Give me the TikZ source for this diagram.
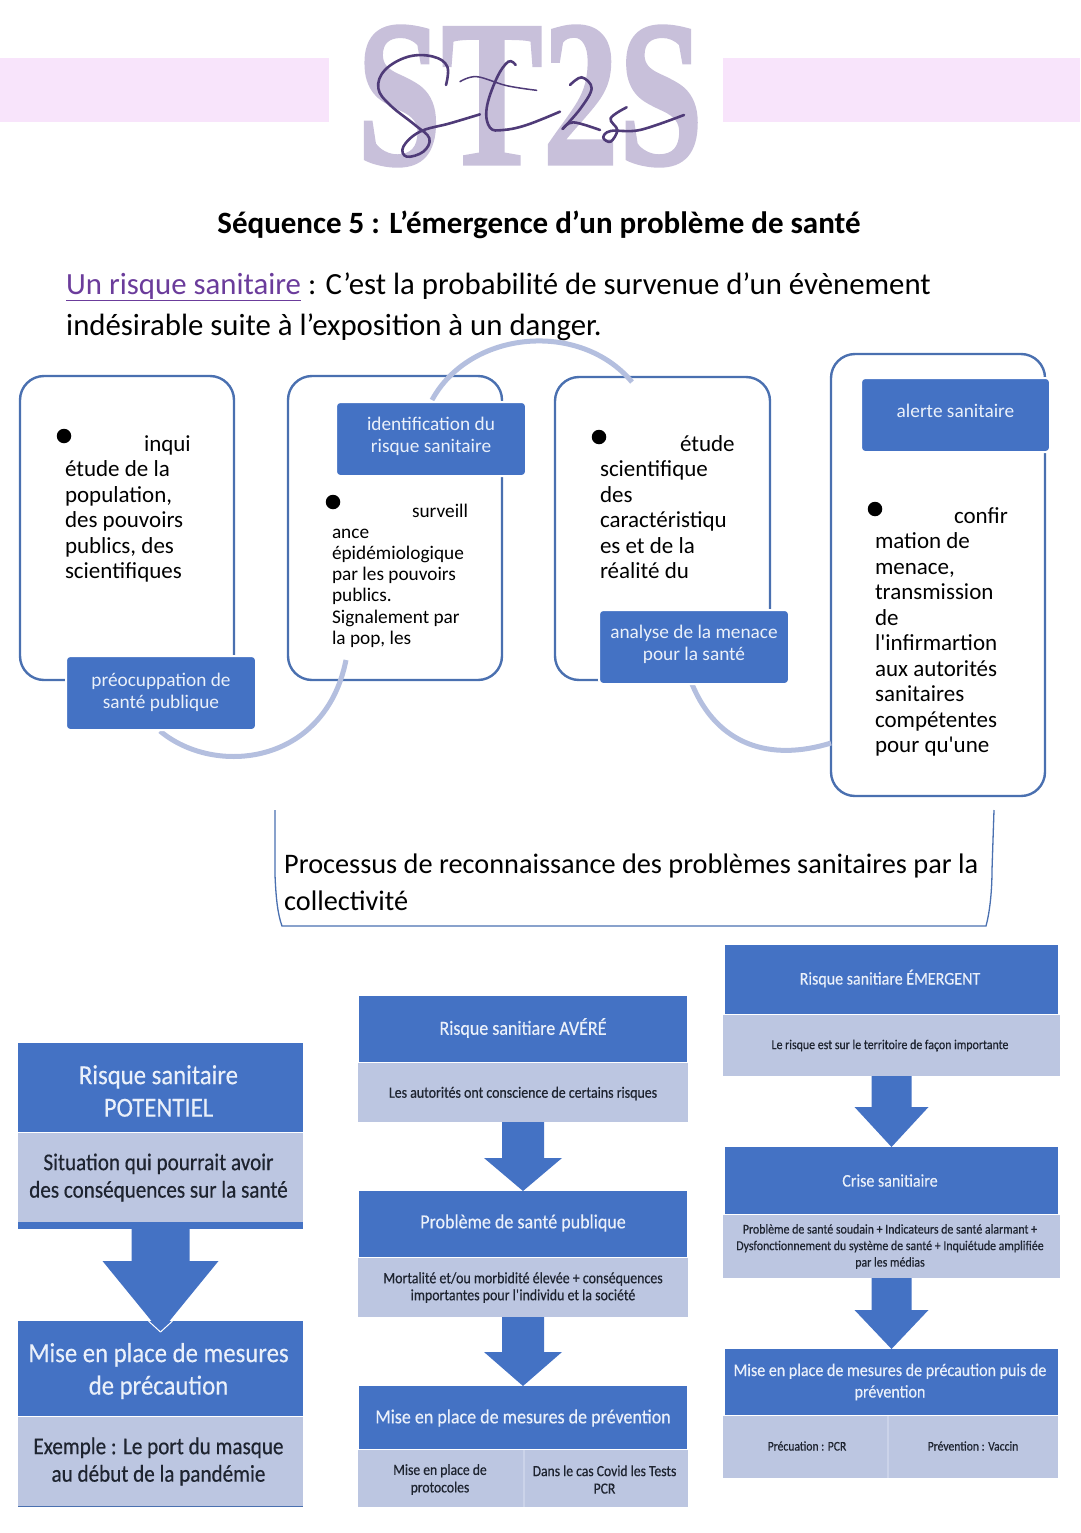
\documentclass[tikz,border=0pt]{standalone}
\usepackage{fontspec}
\setmainfont{Carlito}
\newfontfamily\logofont[FakeBold=1.5]{Liberation Serif}
\newfontfamily\straight[Ligatures=TeXOff]{Carlito}
\newfontfamily\condfont[FakeStretch=0.9,FakeBold=0.25]{Carlito}
\newfontfamily\darkfont[FakeStretch=0.88,FakeBold=0.45]{Carlito}
\usetikzlibrary{calc}
\definecolor{bluefill}{HTML}{4472C4}
\definecolor{lightfill}{HTML}{BCC6E1}
\definecolor{sepline}{HTML}{CBD3E9}
\definecolor{arcblue}{HTML}{B4BFDF}
\definecolor{edgeblue}{HTML}{4A70B0}
\definecolor{pinkband}{HTML}{F8E4FB}
\definecolor{logolight}{HTML}{C8C0DA}
\definecolor{logodark}{HTML}{4F3B78}
\definecolor{linkpurple}{HTML}{6B3C9B}
\definecolor{softwhite}{HTML}{EAF0FA}
\definecolor{darktext}{HTML}{1E2430}
\newcommand{\fs}[2]{\fontsize{#1}{#2}\selectfont}
\newcommand{\apos}{{\straight '}}
% \bx{name}{x1}{y1}{x2}{y2}{box style}{text style}{text}
\newcommand{\bx}[8]{%
  \pgfmathsetmacro{\bxw}{#4-#2}\pgfmathsetmacro{\bxh}{#5-#3}%
  \node[#6,minimum width=\bxw pt,minimum height=\bxh pt] (#1) at ({(#2+#4)/2},{(#3+#5)/2}) {};
  \node[inner sep=0pt,outer sep=0pt,align=center,#7] (#1-t) at (#1.center) {#8};}
% \flowarrow{from}{to}{half stem}{half head}{neck}{tip overlap}
\newcommand{\flowarrow}[6]{%
  \fill[bluefill] ($(#1.south)+(-#3,0)$) -- ++(0,#5) -- ++(#3-#4,0) -- ($(#2.north)+(0,#6)$)
    -- ($(#1.south)+(#4,#5)$) -- ++(#3-#4,0) -- ++(0,-#5) -- cycle;}
\tikzset{
  frame/.style={draw=edgeblue,line width=2.4pt,rounded corners=24pt,fill=white,inner sep=0pt,outer sep=0pt},
  tag/.style={fill=bluefill,draw=white,line width=2pt,rounded corners=4pt,inner sep=0pt,outer sep=0pt},
  tagt/.style={text=softwhite,font=\fs{19.3}{22}},
  hd/.style={fill=bluefill,inner sep=0pt,outer sep=0pt},
  hdt/.style={text=softwhite},
  sub/.style={fill=lightfill,inner sep=0pt,outer sep=0pt},
  subt/.style={text=darktext},
  body/.style={anchor=north west,align=left,inner sep=0pt,outer sep=0pt,text=black},
  bullet/.style={circle,fill=black,minimum size=14.5pt,inner sep=0pt},
  arcline/.style={draw=arcblue,line width=5pt},
  band/.style={fill=pinkband,inner sep=0pt,outer sep=0pt},
}
\begin{document}
\begin{tikzpicture}[x=1pt,y=-1pt]
\useasboundingbox (0,0) rectangle (1080,1533);
% header
\bx{bandL}{0}{58}{329}{122}{band}{}{}
\bx{bandR}{723}{58}{1080}{122}{band}{}{}
\node[text=logolight,inner sep=0pt] (logo) at (530,96) {\resizebox{346pt}{138pt}{\logofont\bfseries ST2S}};
\begin{scope}[shift={(340,15)},x=0.3333pt,y=-0.3333pt,logodark,line width=2.6pt,line cap=round]
\draw plot[smooth,tension=.65] coordinates {(318,210) (322,155) (280,125) (205,125) (135,165) (115,220) (150,270) (225,330) (268,370) (250,410) (200,425) (190,395) (240,350) (330,325) (420,298)};
\draw[line width=1.5pt] plot[smooth,tension=.6] coordinates {(360,200) (410,185) (500,212) (590,226)};
\draw plot[smooth,tension=.65] coordinates {(527,150) (505,140) (470,190) (440,280) (450,338) (490,345) (560,330) (660,290)};
\draw plot[smooth,tension=.6] coordinates {(690,210) (725,187) (755,220) (722,280) (668,342)};
\draw plot[smooth,tension=.6] coordinates {(668,342) (700,322) (780,345)};
\draw plot[smooth,tension=.6] coordinates {(860,277) (812,310) (832,345) (812,380) (790,368) (812,348) (900,345) (1032,300)};
\end{scope}
\node[anchor=base,inner sep=0pt] (title) at (539,233.5) {\fs{31}{36}\bfseries Séquence 5 : L’émergence d’un problème de santé};
\node[anchor=base west,inner sep=0pt] (def1) at (66,294) {\fs{30.8}{36}\textcolor{linkpurple}{\underline{Un risque sanitaire}} : C’est la probabilité de survenue d’un évènement};
\node[anchor=base west,inner sep=0pt] (def2) at (66,335) {\fs{30.8}{36}indésirable suite à l’exposition à un danger.};
% cycle frames
\bx{fa}{20}{376}{234}{680}{frame}{}{}
\bx{fb}{288}{376}{502}{680}{frame}{}{}
\bx{fc}{555}{377}{770}{680}{frame}{}{}
\bx{fd}{831}{354}{1045}{796}{frame}{}{}
% curved links
\coordinate (a1s) at (160,731); \coordinate (a1e) at (346,660);
\coordinate (a2s) at (432,400); \coordinate (a2e) at (632,382);
\coordinate (a3s) at (692,684); \coordinate (a3e) at (831,743);
\draw[arcline] (a1s) .. controls (215,777) and (325,765) .. (a1e);
\draw[arcline] (a2s) .. controls (470,330) and (580,320) .. (a2e);
\draw[arcline] (a3s) .. controls (717,745) and (770,762) .. (a3e);
% tags
\bx{ta}{66}{656}{256}{730}{tag}{tagt,yshift=1pt}{préocuppation de\\santé publique}
\bx{tb}{336}{402}{526}{476}{tag}{tagt,yshift=2.5pt}{identification du\\risque sanitaire}
\bx{tc}{599}{610}{789}{684}{tag}{tagt,yshift=2.5pt}{analyse de la menace\\pour la santé}
\bx{td}{861}{378}{1050}{452}{tag}{tagt,yshift=4pt}{alerte sanitaire}
% frame texts
\node[bullet] (ba) at (64,436) {};
\node[body,font=\fs{23}{25.5}] (wa) at (144,436) {inqui};
\node[body,font=\fs{23}{25.5}] (xa) at (65,461) {étude de la\\population,\\des pouvoirs\\publics, des\\scientifiques};
\node[bullet] (bb) at (333,502) {};
\node[body,font=\fs{19.3}{21.2}] (wb) at (412,504) {surveill};
\node[body,font=\fs{19.3}{21.2}] (xb) at (332,529) {ance\\épidémiologique\\par les pouvoirs\\publics.\\Signalement par\\la pop, les};
\node[bullet] (bc) at (599,437) {};
\node[body,font=\fs{23}{25.5}] (wc) at (680,436) {étude};
\node[body,font=\fs{23}{25.5}] (xc) at (600,461) {scientifique\\des\\caractéristiqu\\es et de la\\réalité du};
\node[bullet] (bd) at (875,509) {};
\node[body,font=\fs{23}{25.5}] (wd) at (954,508) {confir};
\node[body,font=\fs{23}{25.5}] (xd) at (875,533) {mation de\\menace,\\transmission\\de\\l\apos infirmartion\\aux autorités\\sanitaires\\compétentes\\pour qu\apos une};
% process bracket
\node[anchor=base west,inner sep=0pt,align=left] (p1) at (284,873) {\fs{28.3}{36}Processus de reconnaissance des problèmes sanitaires par la};
\node[anchor=base west,inner sep=0pt,align=left] (p2) at (284,910) {\fs{28.3}{36}collectivité};
\coordinate (pa) at (275,810); \coordinate (pb) at (282,926); \coordinate (pc) at (986,926); \coordinate (pd) at (994,810);
\draw[edgeblue,line width=1.3pt] (pa) -- (275,875) .. controls (276,900) and (278,915) .. (pb) -- (pc) .. controls (989,915) and (992,895) .. (992,870) -- (pd);
% left column
\bx{l1h}{18}{1043}{303}{1132}{hd}{hdt,xshift=-2pt,yshift=-3.5pt,font=\condfont\fs{27.5}{32.5}}{Risque sanitaire\\POTENTIEL}
\bx{l1s}{18}{1133}{303}{1229}{hd}{}{}
\bx{l1t}{18}{1133}{303}{1222}{sub}{subt,xshift=-2pt,font=\darkfont\fs{24}{27.5}}{Situation qui pourrait avoir\\des conséquences sur la santé}
\bx{l2h}{18}{1321}{303}{1416}{hd}{hdt,xshift=-2pt,yshift=-2.5pt,font=\condfont\fs{27.5}{32.5}}{Mise en place de mesures\\de précaution}
\bx{l2s}{18}{1417}{303}{1506}{sub}{subt,xshift=-2pt,font=\darkfont\fs{24}{27.5}}{Exemple : Le port du masque\\au début de la pandémie}
\draw[edgeblue,line width=1pt] (l2s.south west) -- (l2s.south east);
\begin{scope}[xshift=-2pt]
\flowarrow{l1s}{l2h}{29}{58}{32}{11}
\draw[white,line width=1pt] ($(l2h.north)+(0,11)$) -- ($(l2h.north)+(-12,0)$);
\draw[white,line width=1pt] ($(l2h.north)+(0,11)$) -- ($(l2h.north)+(12,0)$);
\end{scope}
% middle column
\bx{m1h}{359}{996}{687}{1062}{hd}{hdt,yshift=1pt,font=\condfont\fs{20}{24}}{Risque sanitiare AVÉRÉ}
\bx{m1s}{358}{1063}{688}{1122}{sub}{subt,yshift=-1pt,font=\darkfont\fs{15.8}{18}}{Les autorités ont conscience de certains risques}
\bx{m2h}{359}{1191}{687}{1257}{hd}{hdt,yshift=1pt,font=\condfont\fs{20}{24}}{Problème de santé publique}
\bx{m2s}{358}{1258}{688}{1317}{sub}{subt,font=\darkfont\fs{15.8}{17}}{Mortalité et/ou morbidité élevée + conséquences\\importantes pour l\apos individu et la société}
\bx{m3h}{359}{1386}{687}{1449}{hd}{hdt,yshift=-0.5pt,font=\condfont\fs{20}{24}}{Mise en place de mesures de prévention}
\bx{m3a}{358}{1450}{524}{1507}{sub}{subt,xshift=-1pt,yshift=-1pt,font=\darkfont\fs{15.5}{17.5}}{Mise en place de\\protocoles}
\bx{m3b}{524}{1450}{688}{1507}{sub}{subt,xshift=-1.5pt,yshift=-1pt,font=\darkfont\fs{15.5}{17.5}}{Dans le cas Covid les Tests\\PCR}
\draw[sepline,line width=1.5pt] (m3a.north east) -- (m3a.south east);
\flowarrow{m1s}{m2h}{21}{39}{36}{0}
\flowarrow{m2s}{m3h}{21}{39}{35}{0}
% right column
\bx{r1h}{725}{945}{1058}{1014}{hd}{hdt,xshift=-1.5pt,yshift=1pt,font=\condfont\fs{17.8}{23}}{Risque sanitiare ÉMERGENT}
\bx{r1s}{723}{1015}{1060}{1076}{sub}{subt,xshift=-1.5pt,font=\darkfont\fs{13.5}{17}}{Le risque est sur le territoire de façon importante}
\bx{r2h}{725}{1147}{1058}{1214}{hd}{hdt,xshift=-1.5pt,font=\condfont\fs{17.8}{23}}{Crise sanitiaire}
\bx{r2s}{723}{1215}{1060}{1278}{sub}{subt,xshift=-1.5pt,font=\darkfont\fs{13.5}{16.5}}{Problème de santé soudain + Indicateurs de santé alarmant +\\Dysfonctionnement du système de santé + Inquiétude amplifiée\\par les médias}
\bx{r3h}{725}{1349}{1058}{1415}{hd}{hdt,xshift=-1.5pt,font=\condfont\fs{17.8}{21.5}}{Mise en place de mesures de précaution puis de\\prévention}
\bx{r3a}{723}{1416}{888}{1478}{sub}{subt,xshift=1.5pt,yshift=1pt,font=\darkfont\fs{13.2}{17}}{Précuation : PCR}
\bx{r3b}{888}{1416}{1058}{1478}{sub}{subt,yshift=1pt,font=\darkfont\fs{13.2}{17}}{Prévention : Vaccin}
\draw[sepline,line width=1.5pt] (r3a.north east) -- (r3a.south east);
\begin{scope}[xshift=-2pt]
\flowarrow{r1s}{r2h}{20}{37}{31}{0}
\flowarrow{r2s}{r3h}{20}{37}{32}{0}
\end{scope}
\end{tikzpicture}
\end{document}
